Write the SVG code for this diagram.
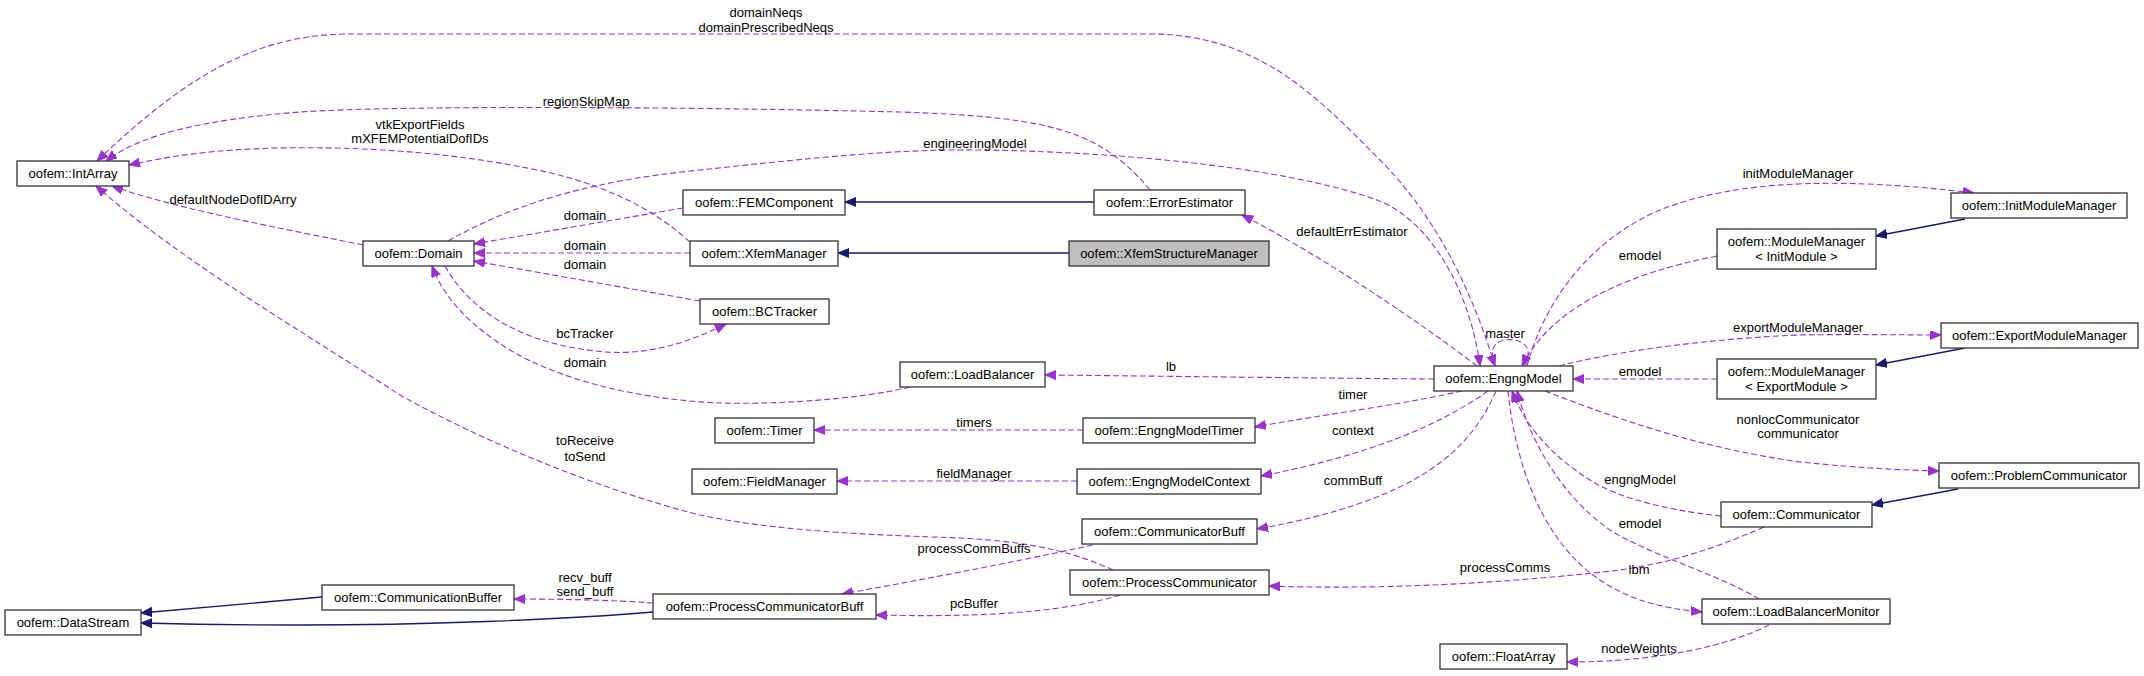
<svg xmlns="http://www.w3.org/2000/svg" width="2144" height="676" viewBox="0 0 2144 676">
<style>
.n rect{fill:#fff;stroke:#333;stroke-width:1.3}
.n.cur rect{fill:#bfbfbf}
text{font-family:"Liberation Sans",Arial,sans-serif;font-size:13px;fill:#000}
.n text{text-anchor:middle}
.lbl{text-anchor:middle}
.u{fill:none;stroke:#9a32cd;stroke-width:1.1;stroke-dasharray:6,3;marker-end:url(#ap)}
.i{fill:none;stroke:#191970;stroke-width:1.3;marker-end:url(#ab)}
</style>
<defs>
<marker id="ap" markerWidth="12" markerHeight="10" refX="11" refY="4.5" orient="auto" markerUnits="userSpaceOnUse"><path d="M0,0 L11,4.5 L0,9 z" fill="#9a32cd" stroke="#9a32cd" stroke-width="1"/></marker>
<marker id="ab" markerWidth="12" markerHeight="10" refX="11" refY="4.5" orient="auto" markerUnits="userSpaceOnUse"><path d="M0,0 L11,4.5 L0,9 z" fill="#191970" stroke="#191970" stroke-width="1"/></marker>
</defs>
<rect width="2144" height="676" fill="#fff"/>
<g id="edges">
<path class="u" d="M1495,366 C1475,300 1440,220 1380,160 C1320,100 1260,34 1150,34 L350,34 C260,34 190,72 97,161"/>
<path class="u" d="M448,241 C520,200 600,180 700,170 C820,157 900,149 975,150 C1100,151 1280,165 1377,200 C1430,220 1470,290 1480,366"/>
<path class="u" d="M1150,190 C1100,130 1050,117 900,112 C700,107 400,105 300,112 C200,120 140,135 106,161"/>
<path class="u" d="M690,242 C660,215 620,190 551,173 C470,155 380,146 276,148 C210,150 170,156 129,165"/>
<path class="u" d="M363,245 C290,230 180,210 112,186"/>
<path class="u" d="M1113,570 C1080,555 1040,542 960,538 C880,535 780,532 700,515 C600,490 480,440 400,395 C300,330 180,260 96,186"/>
<path class="u" d="M683,208 L474,244"/>
<path class="u" d="M690,253 L474,253"/>
<path class="u" d="M700,301 L474,261"/>
<path class="u" d="M445,266 C470,310 520,345 606,352 C650,355 690,342 726,324"/>
<path class="u" d="M910,387 C880,395 800,405 721,403 C640,400 560,380 510,350 C470,325 445,300 432,266"/>
<path class="u" d="M1477,366 C1430,330 1330,260 1242,215"/>
<path class="u" d="M1434,379 C1300,378 1150,376 1045,375"/>
<path class="u" d="M1462,391 C1400,405 1320,415 1255,427"/>
<path class="u" d="M1488,391 C1440,425 1370,455 1261,476"/>
<path class="u" d="M1496,391 C1470,450 1420,500 1257,529"/>
<path class="u" d="M1764,527 C1700,555 1650,568 1593,573 C1500,583 1380,590 1269,586"/>
<path class="u" d="M1508,391 C1515,460 1540,540 1600,580 C1630,600 1660,608 1702,612"/>
<path class="u" d="M1759,599 C1720,575 1650,555 1610,530 C1560,495 1530,440 1517,391"/>
<path class="u" d="M1721,516 C1680,512 1620,500 1590,480 C1550,455 1525,425 1512,391"/>
<path class="u" d="M1545,391 C1620,420 1700,448 1800,462 C1860,468 1900,470 1939,471"/>
<path class="u" d="M1559,366 C1620,350 1720,338 1800,335 C1860,334 1900,335 1941,335"/>
<path class="u" d="M1717,379 L1573,379"/>
<path class="u" d="M1717,256 C1620,275 1550,310 1522,366"/>
<path class="u" d="M1527,366 C1545,300 1590,240 1660,210 C1740,178 1850,178 1974,193"/>
<path class="u" d="M1525,366 C1535,345 1520,338 1505,340 C1492,342 1490,352 1495,366"/>
<path class="u" d="M1083,430 L814,430"/>
<path class="u" d="M1077,481 L837,481"/>
<path class="u" d="M1093,545 C1000,565 920,580 842,594"/>
<path class="u" d="M1120,595 C1070,610 1000,618 876,615"/>
<path class="u" d="M653,603 C610,600 560,599 514,599"/>
<path class="u" d="M1769,625 C1730,645 1660,662 1567,662"/>
<path class="i" d="M1094,202 L845,202"/>
<path class="i" d="M1069,253 L838,253"/>
<path class="i" d="M1965,219 L1876,236"/>
<path class="i" d="M1965,348 L1876,365"/>
<path class="i" d="M1958,489 L1872,505"/>
<path class="i" d="M322,597 L141,613"/>
<path class="i" d="M653,612 C560,620 420,625 300,625 C230,625 180,624 141,623"/>
</g>
<g id="labels">
<text class="lbl" x="766" y="16.5">domainNeqs</text>
<text class="lbl" x="766" y="31.5">domainPrescribedNeqs</text>
<text class="lbl" x="586" y="105.5">regionSkipMap</text>
<text class="lbl" x="420" y="128.5">vtkExportFields</text>
<text class="lbl" x="420" y="142.5">mXFEMPotentialDofIDs</text>
<text class="lbl" x="975" y="147.5">engineeringModel</text>
<text class="lbl" x="233" y="203.5">defaultNodeDofIDArry</text>
<text class="lbl" x="585" y="219.5">domain</text>
<text class="lbl" x="585" y="249.5">domain</text>
<text class="lbl" x="585" y="268.5">domain</text>
<text class="lbl" x="585" y="338">bcTracker</text>
<text class="lbl" x="585" y="367">domain</text>
<text class="lbl" x="1352" y="235.5">defaultErrEstimator</text>
<text class="lbl" x="1798" y="177.5">initModuleManager</text>
<text class="lbl" x="1640" y="259.5">emodel</text>
<text class="lbl" x="1505" y="337.5">master</text>
<text class="lbl" x="1798" y="331.5">exportModuleManager</text>
<text class="lbl" x="1640" y="375.5">emodel</text>
<text class="lbl" x="1171" y="370.5">lb</text>
<text class="lbl" x="1353" y="398.5">timer</text>
<text class="lbl" x="974" y="426.5">timers</text>
<text class="lbl" x="1353" y="434.5">context</text>
<text class="lbl" x="585" y="444.5">toReceive</text>
<text class="lbl" x="585" y="460.5">toSend</text>
<text class="lbl" x="974" y="477.5">fieldManager</text>
<text class="lbl" x="1353" y="484.5">commBuff</text>
<text class="lbl" x="1798" y="423.5">nonlocCommunicator</text>
<text class="lbl" x="1798" y="437.5">communicator</text>
<text class="lbl" x="1640" y="483.5">engngModel</text>
<text class="lbl" x="1640" y="527.5">emodel</text>
<text class="lbl" x="974" y="552.5">processCommBuffs</text>
<text class="lbl" x="1505" y="571.5">processComms</text>
<text class="lbl" x="1639" y="573.5">lbm</text>
<text class="lbl" x="585" y="581.5">recv_buff</text>
<text class="lbl" x="585" y="595.5">send_buff</text>
<text class="lbl" x="974" y="607.5">pcBuffer</text>
<text class="lbl" x="1639" y="652.5">nodeWeights</text>
</g>
<g id="n-IntArray" class="n"><rect x="17" y="161" width="112" height="25"/><text x="73" y="178">oofem::IntArray</text></g>
<g id="n-Domain" class="n"><rect x="363" y="241" width="111" height="25"/><text x="418.5" y="258">oofem::Domain</text></g>
<g id="n-FEMComponent" class="n"><rect x="683" y="190" width="162" height="25"/><text x="764" y="207">oofem::FEMComponent</text></g>
<g id="n-XfemManager" class="n"><rect x="690" y="241" width="148" height="25"/><text x="764" y="258">oofem::XfemManager</text></g>
<g id="n-BCTracker" class="n"><rect x="700" y="299" width="129" height="25"/><text x="764.5" y="316">oofem::BCTracker</text></g>
<g id="n-ErrorEstimator" class="n"><rect x="1094" y="190" width="151" height="25"/><text x="1169.5" y="207">oofem::ErrorEstimator</text></g>
<g id="n-XfemStructureManager" class="n cur"><rect x="1069" y="241" width="200" height="25"/><text x="1169" y="258">oofem::XfemStructureManager</text></g>
<g id="n-LoadBalancer" class="n"><rect x="900" y="362" width="145" height="25"/><text x="972.5" y="379">oofem::LoadBalancer</text></g>
<g id="n-Timer" class="n"><rect x="715" y="418" width="99" height="25"/><text x="764.5" y="435">oofem::Timer</text></g>
<g id="n-EngngModelTimer" class="n"><rect x="1083" y="418" width="172" height="25"/><text x="1169" y="435">oofem::EngngModelTimer</text></g>
<g id="n-FieldManager" class="n"><rect x="692" y="469" width="145" height="25"/><text x="764.5" y="486">oofem::FieldManager</text></g>
<g id="n-EngngModelContext" class="n"><rect x="1077" y="469" width="184" height="25"/><text x="1169" y="486">oofem::EngngModelContext</text></g>
<g id="n-CommunicatorBuff" class="n"><rect x="1082" y="519" width="175" height="25"/><text x="1169.5" y="536">oofem::CommunicatorBuff</text></g>
<g id="n-ProcessCommunicator" class="n"><rect x="1070" y="570" width="199" height="25"/><text x="1169.5" y="587">oofem::ProcessCommunicator</text></g>
<g id="n-ProcessCommunicatorBuff" class="n"><rect x="653" y="594" width="223" height="25"/><text x="764.5" y="611">oofem::ProcessCommunicatorBuff</text></g>
<g id="n-CommunicationBuffer" class="n"><rect x="322" y="585" width="192" height="25"/><text x="418" y="602">oofem::CommunicationBuffer</text></g>
<g id="n-DataStream" class="n"><rect x="5" y="610" width="136" height="25"/><text x="73" y="627">oofem::DataStream</text></g>
<g id="n-EngngModel" class="n"><rect x="1434" y="366" width="139" height="25"/><text x="1503.5" y="383">oofem::EngngModel</text></g>
<g id="n-InitModuleManager" class="n"><rect x="1951" y="193" width="176" height="25"/><text x="2039" y="210">oofem::InitModuleManager</text></g>
<g id="n-ModuleManagerInit" class="n"><rect x="1717" y="229" width="159" height="40"/><text x="1796.5" y="245.5">oofem::ModuleManager</text><text x="1796.5" y="260.5">&lt; InitModule &gt;</text></g>
<g id="n-ExportModuleManager" class="n"><rect x="1941" y="323" width="197" height="25"/><text x="2039.5" y="340">oofem::ExportModuleManager</text></g>
<g id="n-ModuleManagerExport" class="n"><rect x="1717" y="359" width="159" height="40"/><text x="1796.5" y="375.5">oofem::ModuleManager</text><text x="1796.5" y="390.5">&lt; ExportModule &gt;</text></g>
<g id="n-ProblemCommunicator" class="n"><rect x="1939" y="463" width="200" height="25"/><text x="2039" y="480">oofem::ProblemCommunicator</text></g>
<g id="n-Communicator" class="n"><rect x="1721" y="502" width="151" height="25"/><text x="1796.5" y="519">oofem::Communicator</text></g>
<g id="n-LoadBalancerMonitor" class="n"><rect x="1702" y="599" width="188" height="25"/><text x="1796" y="616">oofem::LoadBalancerMonitor</text></g>
<g id="n-FloatArray" class="n"><rect x="1440" y="644" width="127" height="25"/><text x="1503.5" y="661">oofem::FloatArray</text></g>
</svg>
